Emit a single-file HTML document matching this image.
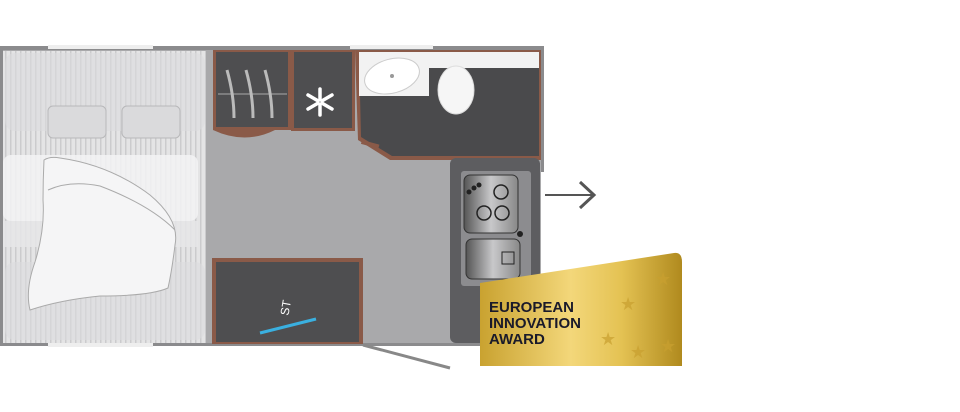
<!DOCTYPE html>
<html><head><style>body{margin:0;background:#fff}svg{display:block}</style></head><body>
<svg width="960" height="412" viewBox="0 0 960 412" xmlns="http://www.w3.org/2000/svg">
<defs>
<pattern id="st" width="5" height="10" patternUnits="userSpaceOnUse"><rect width="5" height="10" fill="#e4e4e5"/><rect width="1.5" height="10" fill="#cbcbcd"/></pattern>
<linearGradient id="gold" x1="0" x2="1" y1="0" y2="0"><stop offset="0" stop-color="#c9a230"/><stop offset="0.45" stop-color="#f3d77a"/><stop offset="0.7" stop-color="#e4c253"/><stop offset="1" stop-color="#b08a1e"/></linearGradient>
<linearGradient id="sink" x1="0" x2="1"><stop offset="0" stop-color="#555"/><stop offset="0.5" stop-color="#c8c8ca"/><stop offset="1" stop-color="#888"/></linearGradient>
</defs>
<rect x="0" y="46" width="544" height="300" fill="#8b8b8d"/>
<rect x="3" y="50" width="538" height="293" fill="#a9a9ab"/>
<rect x="48" y="45" width="105" height="4" fill="#eee"/><rect x="350" y="45" width="83" height="4" fill="#eee"/>
<rect x="48" y="343" width="105" height="4" fill="#eee"/>
<rect x="541" y="172" width="3" height="170" fill="#fff"/>
<!-- bed -->
<rect x="3" y="51" width="203" height="292" fill="url(#st)"/>
<rect x="5" y="53" width="200" height="78" rx="10" fill="#dcdcde" opacity="0.6"/>
<rect x="5" y="262" width="200" height="78" rx="10" fill="#dcdcde" opacity="0.6"/>
<rect x="3" y="155" width="195" height="66" rx="8" fill="#f3f3f4" opacity="0.85"/>
<rect x="3" y="221" width="195" height="26" fill="#e6e6e7" opacity="0.85"/>
<rect x="48" y="106" width="58" height="32" rx="5" fill="#dadadc" stroke="#b8b8ba"/>
<rect x="122" y="106" width="58" height="32" rx="5" fill="#dadadc" stroke="#b8b8ba"/>
<path d="M44 160 Q50 156 60 158 Q110 165 150 195 Q180 220 175 245 Q172 270 168 288 Q150 296 100 296 Q60 300 30 310 Q25 290 35 262 Q45 230 43 200 Q43 180 44 160Z M48 190 Q70 180 100 186 Q150 205 175 230" fill="#f5f5f6" stroke="#aaa"/>
<!-- wardrobe & fridge -->
<path d="M213 50 H291 V130 H275 Q245 145 213 130 Z" fill="#8a5a48"/>
<rect x="216" y="52" width="72" height="75" fill="#4e4e50"/>
<line x1="218" y1="94" x2="287" y2="94" stroke="#aaa"/>
<path d="M227 70 Q234 95 234 118 M246 70 Q253 95 253 118 M265 70 Q272 95 272 118" stroke="#bbb" stroke-width="3" fill="none"/>
<rect x="291" y="50" width="64" height="81" fill="#8a5a48"/>
<rect x="294" y="52" width="58" height="76" fill="#4e4e50"/>
<g stroke="#fff" stroke-width="3.5" stroke-linecap="round"><line x1="320" y1="89" x2="320" y2="115"/><line x1="308" y1="95" x2="332" y2="109"/><line x1="308" y1="109" x2="332" y2="95"/></g>
<g stroke="#111" stroke-width="1" fill="none"><circle cx="320" cy="102" r="0.1"/></g>
<!-- bathroom -->
<path d="M355 50 H541 V160 H390 L358 140 Z" fill="#8a5a48"/>
<path d="M359 52 H539 V156 H392 L361 137 Z" fill="#4a4a4c"/>
<rect x="359" y="52" width="180" height="16" fill="#f2f2f2"/><rect x="359" y="52" width="70" height="44" fill="#f2f2f2"/>
<ellipse cx="392" cy="76" rx="28" ry="17" fill="#fff" stroke="#ccc" transform="rotate(-15 392 76)"/>
<circle cx="392" cy="76" r="2" fill="#999"/>
<ellipse cx="456" cy="90" rx="18" ry="24" fill="#f6f6f6" stroke="#ddd"/>
<rect x="362" y="140" width="18" height="4" fill="#8a5a48" transform="rotate(15 362 140)"/>
<!-- kitchen -->
<rect x="450" y="158" width="90" height="185" rx="6" fill="#5d5d60"/>
<rect x="461" y="171" width="70" height="115" rx="3" fill="#8c8c8f"/>
<rect x="464" y="175" width="54" height="58" rx="6" fill="url(#sink)" stroke="#333"/>
<circle cx="501" cy="192" r="7" fill="none" stroke="#222" stroke-width="1.5"/><circle cx="484" cy="213" r="7" fill="none" stroke="#222" stroke-width="1.5"/><circle cx="502" cy="213" r="7" fill="none" stroke="#222" stroke-width="1.5"/>
<circle cx="469" cy="192" r="2.5" fill="#222"/><circle cx="474" cy="188" r="2.5" fill="#222"/><circle cx="479" cy="185" r="2.5" fill="#222"/>
<circle cx="520" cy="234" r="3" fill="#222"/>
<rect x="466" y="239" width="54" height="40" rx="6" fill="url(#sink)" stroke="#333"/>
<rect x="502" y="252" width="12" height="12" fill="none" stroke="#222"/>
<!-- bottom cabinet -->
<rect x="212" y="258" width="151" height="86" fill="#8a5a48"/>
<rect x="216" y="262" width="143" height="80" fill="#4e4e50"/>
<line x1="260" y1="333" x2="316" y2="319" stroke="#3ab0e0" stroke-width="3"/>
<text x="280" y="318" fill="#fff" font-family="Liberation Sans" font-size="12" transform="rotate(-80 283 312)">ST</text>
<line x1="363" y1="345" x2="450" y2="368" stroke="#888" stroke-width="3"/>
<!-- arrow -->
<line x1="545" y1="195" x2="592" y2="195" stroke="#555" stroke-width="2"/>
<polyline points="580,182 594,195 580,208" fill="none" stroke="#555" stroke-width="3"/>
<!-- award -->
<path d="M480 283 L674 253 Q682 252 682 262 V366 H480 Z" fill="url(#gold)"/>
<text font-family="Liberation Sans" font-size="15" font-weight="bold" fill="#1a1a2a"><tspan x="489" y="312">EUROPEAN</tspan><tspan x="489" y="328">INNOVATION</tspan><tspan x="489" y="344">AWARD</tspan></text>
<g fill="#c9a030" opacity="0.7" font-size="18" font-family="DejaVu Sans"><text x="655" y="285">★</text><text x="620" y="310">★</text><text x="600" y="345">★</text><text x="630" y="358">★</text><text x="660" y="352">★</text></g>
</svg>
</body></html>
